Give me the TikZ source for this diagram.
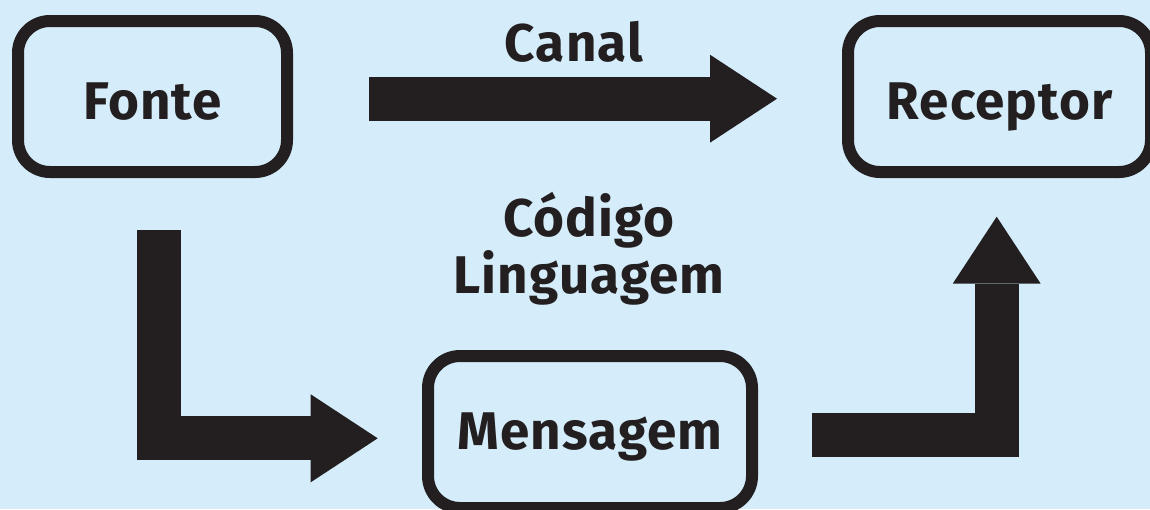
\documentclass[tikz,border=0pt]{standalone}
\usepackage{fontspec}
\setmainfont[LetterSpace=2]{Fira Sans}
\usetikzlibrary{arrows.meta}
\definecolor{fundo}{RGB}{213,237,250}
\definecolor{tinta}{RGB}{35,31,32}
\begin{document}
\begin{tikzpicture}[x=1pt,y=-1pt,
		caixa/.style={draw=tinta,line width=12pt,rounded corners=32pt,inner sep=0pt,text depth=0pt},
		rotulo/.style={text=tinta,font=\fontsize{53}{57}\selectfont\bfseries},
		seta/.style={draw=tinta,line width=44pt,-{Triangle[length=67pt,width=88pt,line width=0pt]}}]
	\useasboundingbox (0,0) rectangle (1150,509);
	\fill[fundo] (0,0) rectangle (1150,509);
	% Caixas
	\node[caixa,rotulo,minimum width=269pt,minimum height=151pt,text height=46pt] (fonte) at (152.5,96.5) {Fonte};
	\node[caixa,rotulo,minimum width=303pt,minimum height=151pt,text height=46pt] (receptor) at (999.5,96.5) {Receptor};
	\node[caixa,rotulo,minimum width=324pt,minimum height=152pt,text height=35pt] (mensagem) at (590,432) {Mensagem};
	% Textos
	\node[rotulo,anchor=base] (canal) at (574,61) {Canal};
	\node[rotulo,align=center] (codigo) at (589,249) {Código\\Linguagem};
	% Setas
	\coordinate (canal-ini) at (369,98.7);
	\coordinate (canal-fim) at (777,98.7);
	\coordinate (desce-ini) at (159.2,230);
	\coordinate (desce-fim) at (377.7,438.3);
	\coordinate (sobe-ini) at (811.7,435);
	\coordinate (sobe-fim) at (996.7,216.7);
	\draw[seta] (canal-ini) -- (canal-fim);
	\draw[seta] (desce-ini) |- (desce-fim);
	\draw[seta] (sobe-ini) -| (sobe-fim);
\end{tikzpicture}
\end{document}
